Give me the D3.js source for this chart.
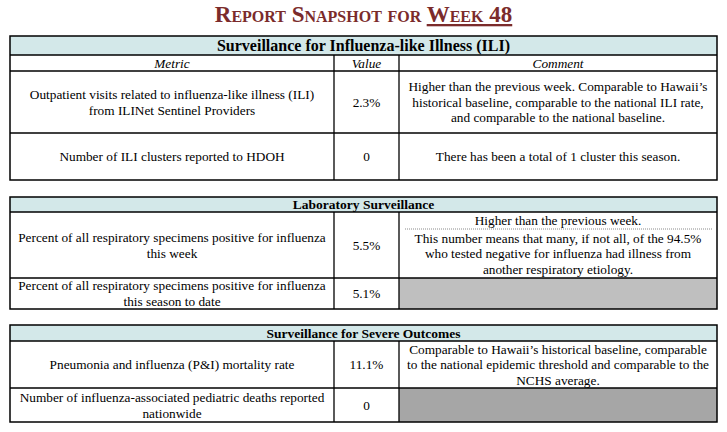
<!DOCTYPE html>
<html>
<head>
<meta charset="utf-8">
<script src="https://cdn.jsdelivr.net/npm/d3@7"></script>
<style>
  body { margin: 0; background: #fff; }
  svg { display: block; }
  text { font-family: "Liberation Serif", "Times New Roman", serif; fill: #000; }
</style>
</head>
<body>
<svg id="chart" width="727" height="432"></svg>
<script>
// ---- data ----
var titleText = "Report Snapshot for ";
var titleWeek = "Week 48";
var sections = [
    "Surveillance for Influenza-like Illness (ILI)",
    "Laboratory Surveillance",
    "Surveillance for Severe Outcomes"
];
var columns = ["Metric", "Value", "Comment"];
var rowSection = [0, 0, 1, 1, 2, 2];
var metrics = [
    ["Outpatient visits related to influenza-like illness (ILI)", "from ILINet Sentinel Providers"],
    ["Number of ILI clusters reported to HDOH"],
    ["Percent of all respiratory specimens positive for influenza", "this week"],
    ["Percent of all respiratory specimens positive for influenza", "this season to date"],
    ["Pneumonia and influenza (P&I) mortality rate"],
    ["Number of influenza-associated pediatric deaths reported", "nationwide"]
];
var values = ["2.3%", "0", "5.5%", "5.1%", "11.1%", "0"];
var comments = [
    ["Higher than the previous week. Comparable to Hawaii\u2019s", "historical baseline, comparable to the national ILI rate,", "and comparable to the national baseline."],
    ["There has been a total of 1 cluster this season."],
    ["Higher than the previous week."],
    [],
    ["Comparable to Hawaii\u2019s historical baseline, comparable", "to the national epidemic threshold and comparable to the", "NCHS average."],
    []
];
// second part of a comment below a dotted rule
var commentNotes = [
    [], [],
    ["This number means that many, if not all, of the 94.5%", "who tested negative for influenza had illness from", "another respiratory etiology."],
    [], [], []
];

// ---- layout ----
var svg = d3.select("#chart");
var left = 10, right = 717;
var colX = d3.scaleOrdinal().domain(columns).range([10, 334, 399]);
var colEnd = function (c) {
    var i = columns.indexOf(c);
    return i < columns.length - 1 ? colX(columns[i + 1]) : right;
};
var colMid = function (c) { return (colX(c) + colEnd(c)) / 2; };

var tables = [
    { top: 36, header: 19, headSize: 16, colHead: 16, rows: [62, 47] },
    { top: 197, header: 15, headSize: 13.5, colHead: 0, rows: [66, 31] },
    { top: 325, header: 16, headSize: 13.5, colHead: 0, rows: [47, 34] }
];
var noteSplit = 17;             // height of the sub cell above dotted rule
var grayFill = ["#bfbfbf", "#bfbfbf", "#bfbfbf", "#bfbfbf", "#a6a6a6", "#a6a6a6"];
var lineH = 15.5;
var fontSize = 13.3;

// compute row boxes
var rowBoxes = [];
tables.forEach(function (t, ti) {
    var y = t.top + t.header + t.colHead;
    t.rows.forEach(function (h) {
        rowBoxes.push({ y0: y, y1: y + h });
        y += h;
    });
    t.bottom = y;
});

// title
var title = svg.append("text")
    .attr("x", (left + right) / 2)
    .attr("y", 22)
    .attr("text-anchor", "middle")
    .style("font-size", "23px")
    .style("font-weight", "bold")
    .style("font-variant", "small-caps")
    .style("fill", "#7b2b2b");
title.append("tspan").text(titleText);
title.append("tspan").style("text-decoration", "underline").text(titleWeek);

// helper to write centered multi-line text
var lines = function (g, arr, x, cy, lh) {
    g.selectAll(null)
        .data(arr)
        .enter()
        .append("text")
        .attr("x", x)
        .attr("y", function (d, i) { return cy + (i - (arr.length - 1) / 2) * lh; })
        .attr("dy", "0.35em")
        .attr("text-anchor", "middle")
        .style("font-size", fontSize + "px")
        .text(function (d) { return d; });
};

// section headers
var heads = svg.selectAll(".head")
    .data(tables)
    .enter()
    .append("g")
    .attr("class", "head");

heads.append("rect")
    .attr("x", left)
    .attr("y", function (d) { return d.top; })
    .attr("width", right - left)
    .attr("height", function (d) { return d.header; })
    .style("fill", "#d3e8e9");

heads.append("text")
    .attr("x", (left + right) / 2)
    .attr("y", function (d) { return d.top + d.header / 2; })
    .attr("dy", "0.35em")
    .attr("text-anchor", "middle")
    .style("font-weight", "bold")
    .style("font-size", function (d) { return d.headSize + "px"; })
    .text(function (d, i) { return sections[i]; });

// column headers (first table only)
var t0 = tables[0];
svg.selectAll(".colhead")
    .data(columns)
    .enter()
    .append("text")
    .attr("class", "colhead")
    .attr("x", function (d) { return colMid(d); })
    .attr("y", t0.top + t0.header + t0.colHead / 2)
    .attr("dy", "0.35em")
    .attr("text-anchor", "middle")
    .style("font-style", "italic")
    .style("font-size", fontSize + "px")
    .text(function (d) { return d; });

// rows
var rows = svg.selectAll(".row")
    .data(metrics)
    .enter()
    .append("g")
    .attr("class", "row");

rows.each(function (m, i) {
    var g = d3.select(this);
    var b = rowBoxes[i];
    var cy = (b.y0 + b.y1) / 2;

    if (comments[i].length === 0) {
        g.append("rect")
            .attr("x", colX("Comment"))
            .attr("y", b.y0)
            .attr("width", right - colX("Comment"))
            .attr("height", b.y1 - b.y0)
            .style("fill", grayFill[i]);
    }

    lines(g, m, colMid("Metric"), cy, 16);
    lines(g, [values[i]], colMid("Value"), cy, lineH);

    if (commentNotes[i].length) {
        var split = b.y0 + noteSplit;
        lines(g, comments[i], colMid("Comment"), (b.y0 + split) / 2, lineH);
        g.append("line")
            .attr("x1", colX("Comment") + 6)
            .attr("x2", right - 5)
            .attr("y1", split)
            .attr("y2", split)
            .style("stroke", "#8a8a8a")
            .style("stroke-width", 1)
            .style("stroke-dasharray", "1,1");
        lines(g, commentNotes[i], colMid("Comment"), (split + b.y1) / 2, lineH);
    } else {
        lines(g, comments[i], colMid("Comment"), cy, lineH);
    }
});

// grid lines
tables.forEach(function (t, ti) {
    var g = svg.append("g").attr("class", "grid")
        .style("stroke", "#000").style("fill", "none");
    var body = t.top + t.header;
    var hs = [t.top + t.header];
    if (t.colHead) hs.push(body + t.colHead);
    rowBoxes.filter(function (r, i) { return rowSection[i] === ti; })
        .forEach(function (r) { hs.push(r.y1); });
    hs.pop();

    g.selectAll(null).data(hs).enter().append("line")
        .attr("x1", left).attr("x2", right)
        .attr("y1", function (d) { return d; })
        .attr("y2", function (d) { return d; })
        .style("stroke-width", 1.3);

    g.selectAll(null).data(columns.slice(1)).enter().append("line")
        .attr("x1", function (d) { return colX(d); })
        .attr("x2", function (d) { return colX(d); })
        .attr("y1", body)
        .attr("y2", t.bottom)
        .style("stroke-width", 1.3);

    g.append("rect")
        .attr("x", left)
        .attr("y", t.top)
        .attr("width", right - left)
        .attr("height", t.bottom - t.top)
        .style("stroke-width", 1.5);
});
</script>
</body>
</html>
